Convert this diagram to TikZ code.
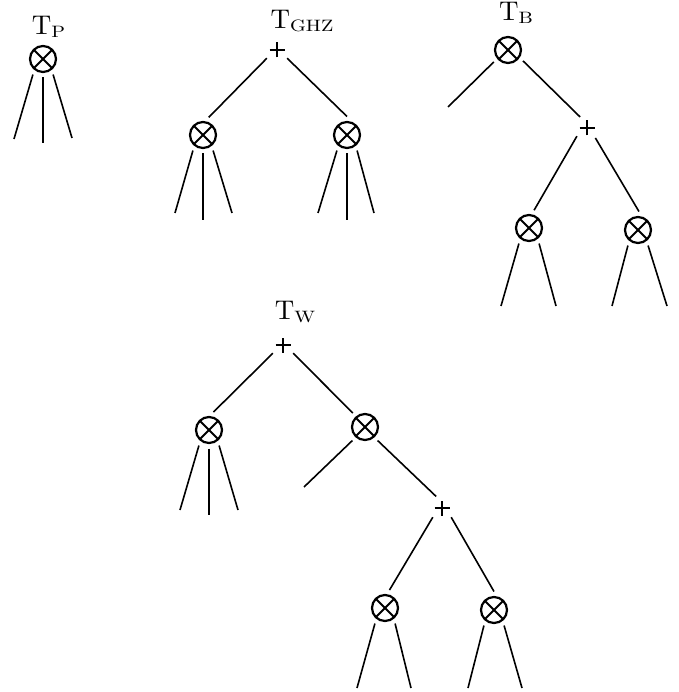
\documentclass[tikz,border=0pt]{standalone}
\usepackage{fontspec}
\usepackage{graphicx}
% labels use the 10pt design of Latin Modern, scaled up
\newfontfamily\lmten{lmroman10-regular.otf}
% tensor-network label: upright T with a wide, lowered subscript
\newcommand{\tnlabel}[1]{T\raisebox{-3pt}{\fontsize{16.5}{19}\selectfont\scalebox{1.22}[1]{#1}}}
\tikzset{
  tensor/.style={circle, draw, line width=2.2pt, minimum size=26pt, inner sep=0pt, outer sep=5.5pt,
    path picture={
      \draw[line width=1.8pt] ([shift={(45:13pt)}]path picture bounding box.center) -- ([shift={(225:13pt)}]path picture bounding box.center);
      \draw[line width=1.8pt] ([shift={(135:13pt)}]path picture bounding box.center) -- ([shift={(315:13pt)}]path picture bounding box.center);
    }},
  plusnode/.style={circle, minimum size=26pt, inner sep=0pt, outer sep=0pt,
    path picture={
      \draw[line width=1.4pt] ([xshift=-7.5pt]path picture bounding box.center) -- ([xshift=7.5pt]path picture bounding box.center);
      \draw[line width=1.4pt] ([yshift=-7.5pt]path picture bounding box.center) -- ([yshift=7.5pt]path picture bounding box.center);
    }},
  wire/.style={line width=1.6pt},
  lbl/.style={anchor=base, inner sep=0pt, font={\lmten\fontsize{27}{31}\selectfont}}
}
\begin{document}
\begin{tikzpicture}[x=1pt, y=-1pt]
\useasboundingbox (0,0) rectangle (678,692);

% ---- T_P ----
\node[lbl] (lp) at (48.5,35) {\tnlabel{P}};
\node[tensor] (p0) at (43,59) {};
\coordinate (p0a) at (14,139);
\coordinate (p0b) at (43,143);
\coordinate (p0c) at (72,138);
\draw[wire] (p0.237) -- (p0a);
\draw[wire] (p0.270) -- (p0b);
\draw[wire] (p0.303) -- (p0c);

% ---- T_GHZ ----
\node[lbl] (lg) at (302,29) {\tnlabel{GHZ}};
\node[plusnode] (g0) at (277,50) {};
\node[tensor] (g1) at (203,135) {};
\node[tensor] (g2) at (347,135) {};
\draw[wire] (g0.219) -- (g1.72);
\draw[wire] (g0.321) -- (g2.90);
\coordinate (g1a) at (175,213);
\coordinate (g1b) at (203,220);
\coordinate (g1c) at (232,213);
\coordinate (g2a) at (318,213);
\coordinate (g2b) at (347,220);
\coordinate (g2c) at (374,213);
\draw[wire] (g1.237) -- (g1a);
\draw[wire] (g1.270) -- (g1b);
\draw[wire] (g1.303) -- (g1c);
\draw[wire] (g2.237) -- (g2a);
\draw[wire] (g2.270) -- (g2b);
\draw[wire] (g2.303) -- (g2c);

% ---- T_B ----
\node[lbl] (lb) at (516,21) {\tnlabel{B}};
\node[tensor] (b0) at (508,50) {};
\coordinate (bl) at (448,107);
\node[plusnode] (b1) at (587,128) {};
\node[tensor] (b2) at (529,228) {};
\node[tensor] (b3) at (638,230) {};
\draw[wire] (b0.220) -- (bl);
\draw[wire] (b0.324) -- (b1.122);
\draw[wire] (b1.219) -- (b2.74);
\draw[wire] (b1.310) -- (b3.87);
\coordinate (b2a) at (501,306);
\coordinate (b2b) at (556,306);
\coordinate (b3a) at (612,306);
\coordinate (b3b) at (667,306);
\draw[wire] (b2.237) -- (b2a);
\draw[wire] (b2.303) -- (b2b);
\draw[wire] (b3.237) -- (b3a);
\draw[wire] (b3.303) -- (b3b);

% ---- T_W ----
\node[lbl] (lw) at (295,319) {\tnlabel{W}};
\node[plusnode] (w0) at (283,345) {};
\node[tensor] (w1) at (209,430) {};
\node[tensor] (w2) at (365,427) {};
\draw[wire] (w0.219) -- (w1.76);
\draw[wire] (w0.321) -- (w2.131);
\coordinate (w1a) at (180,510);
\coordinate (w1b) at (209,515);
\coordinate (w1c) at (238,510);
\draw[wire] (w1.237) -- (w1a);
\draw[wire] (w1.270) -- (w1b);
\draw[wire] (w1.303) -- (w1c);
\coordinate (wl) at (304,487);
\node[plusnode] (w3) at (442,508) {};
\node[tensor] (w4) at (385,608) {};
\node[tensor] (w5) at (494,610) {};
\draw[wire] (w2.227) -- (wl);
\draw[wire] (w2.313) -- (w3.117);
\draw[wire] (w3.225) -- (w4.76);
\draw[wire] (w3.315) -- (w5.90);
\coordinate (w4a) at (357,688);
\coordinate (w4b) at (411,688);
\coordinate (w5a) at (468,688);
\coordinate (w5b) at (522,688);
\draw[wire] (w4.237) -- (w4a);
\draw[wire] (w4.303) -- (w4b);
\draw[wire] (w5.237) -- (w5a);
\draw[wire] (w5.303) -- (w5b);
\end{tikzpicture}
\end{document}
